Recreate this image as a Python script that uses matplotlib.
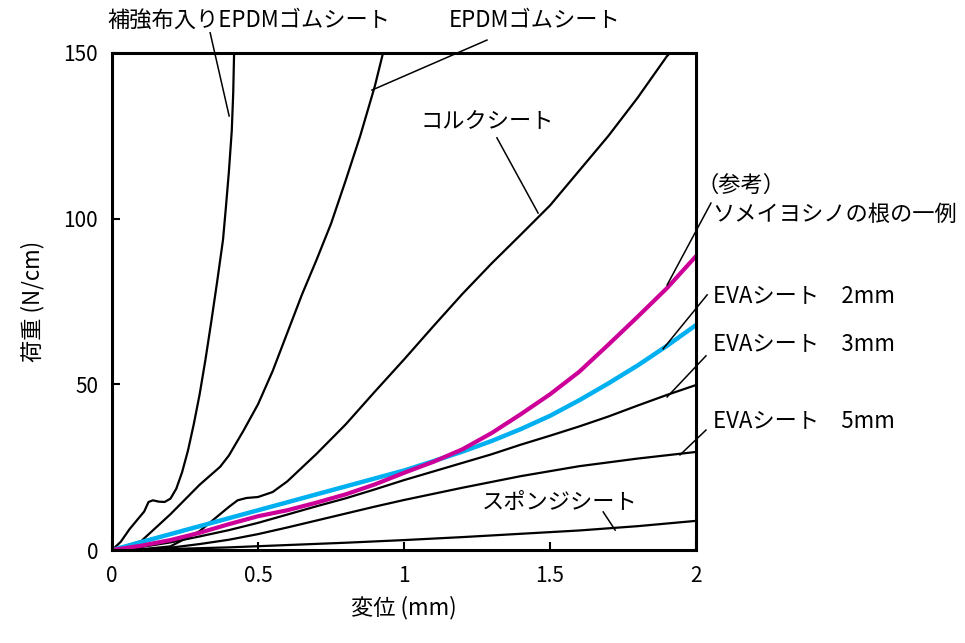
import matplotlib
matplotlib.use("Agg")
import matplotlib.pyplot as plt

plt.rcParams['font.family'] = ['Noto Sans CJK JP', 'DejaVu Sans']

# 変位 (mm) と 荷重 (N/cm) の読み取り値
epdm_cloth_x = [0, 0.03, 0.06, 0.09, 0.11, 0.125, 0.14, 0.16, 0.18, 0.2, 0.22, 0.24, 0.26, 0.28, 0.30,
                0.32, 0.34, 0.36, 0.38, 0.39, 0.40, 0.41, 0.415, 0.418]
epdm_cloth_y = [0, 2.5, 6.3, 9.5, 11.6, 14.5, 15.0, 14.6, 14.5, 15.5, 18.5, 23.5, 30.0, 38.0, 47.0,
                57.5, 69.0, 81.0, 93.6, 103.5, 114.0, 126.5, 138.0, 150]

epdm_x = [0, 0.1, 0.2, 0.3, 0.37, 0.4, 0.45, 0.5, 0.55, 0.6, 0.65, 0.7, 0.75, 0.8, 0.85, 0.9, 0.928]
epdm_y = [0, 2.7, 10.8, 19.7, 25.1, 28.5, 36.0, 44.0, 54.0, 65.5, 77.0, 87.5, 98.5, 111.5, 125.0, 140.0, 150]

cork_x = [0, 0.1, 0.2, 0.3, 0.4, 0.43, 0.46, 0.5, 0.55, 0.6, 0.7, 0.8, 0.9, 1.0, 1.1, 1.2, 1.3, 1.4,
          1.5, 1.6, 1.7, 1.8, 1.9, 1.911]
cork_y = [0, 0.2, 1.1, 5.7, 13.0, 15.0, 15.7, 16.0, 17.5, 20.7, 29.0, 37.9, 47.8, 57.5, 67.5, 77.3, 86.5, 95.2,
          104.0, 114.5, 125.0, 136.5, 149.0, 150]

root_x = [0, 0.1, 0.2, 0.3, 0.4, 0.5, 0.6, 0.7, 0.8, 0.9, 1.0, 1.1, 1.2, 1.3, 1.4, 1.5, 1.6, 1.7, 1.8, 1.9, 2.0]
root_y = [0, 1.3, 3.0, 5.2, 7.8, 10.2, 12.0, 14.3, 16.8, 19.8, 23.3, 26.6, 30.4, 35.3, 41.0, 47.0, 53.8,
          62.0, 70.4, 79.0, 88.7]

eva2_x = [0, 0.2, 0.4, 0.6, 0.8, 1.0, 1.1, 1.2, 1.3, 1.4, 1.5, 1.6, 1.7, 1.8, 1.9, 2.0]
eva2_y = [0, 4.8, 9.6, 14.4, 19.2, 24.0, 26.8, 29.7, 32.9, 36.5, 40.5, 45.2, 50.3, 55.7, 61.6, 67.9]

eva3_x = [0, 0.1, 0.2, 0.3, 0.4, 0.5, 0.6, 0.7, 0.8, 0.9, 1.0, 1.1, 1.2, 1.3, 1.4, 1.5, 1.6, 1.7, 1.8, 1.9, 2.0]
eva3_y = [0, 0.9, 2.3, 4.1, 6.0, 8.2, 10.7, 13.2, 15.6, 18.3, 21.1, 23.7, 26.3, 28.9, 31.8, 34.5, 37.3,
          40.3, 43.6, 46.8, 49.8]

eva5_x = [0, 0.1, 0.2, 0.3, 0.4, 0.5, 0.6, 0.7, 0.8, 0.9, 1.0, 1.2, 1.4, 1.6, 1.8, 2.0]
eva5_y = [0, 0.2, 0.7, 1.8, 3.1, 4.8, 6.8, 8.9, 11.0, 13.1, 15.1, 18.8, 22.3, 25.3, 27.6, 29.6]

sponge_x = [0, 0.2, 0.4, 0.6, 0.8, 1.0, 1.2, 1.4, 1.6, 1.8, 2.0]
sponge_y = [0, 0.3, 0.8, 1.5, 2.2, 3.0, 3.9, 4.9, 5.9, 7.2, 8.8]

xticks = [0, 0.5, 1, 1.5, 2]
xtick_labels = ['0', '0.5', '1', '1.5', '2']
yticks = [0, 50, 100, 150]

fig = plt.figure(figsize=(9.65, 6.43), dpi=100)
ax = fig.add_axes([0.1161, 0.1446, 0.6052, 0.773])

black = dict(color='black', lw=1.6, solid_joinstyle='round')
ax.plot(epdm_cloth_x, epdm_cloth_y, **black)
ax.plot(epdm_x, epdm_y, **black)
ax.plot(cork_x, cork_y, **black)
ax.plot(eva3_x, eva3_y, **black)
ax.plot(eva5_x, eva5_y, **black)
ax.plot(sponge_x, sponge_y, **black)
ax.plot(eva2_x, eva2_y, color='#00B0F0', lw=3.2, solid_capstyle='round', solid_joinstyle='round')
ax.plot(root_x, root_y, color='#CC0099', lw=3.0, solid_capstyle='round', solid_joinstyle='round')

ax.set_xlim(0, 2)
ax.set_ylim(0, 150)
ax.set_xticks(xticks)
ax.set_xticklabels(xtick_labels)
ax.set_yticks(yticks)
ax.tick_params(direction='in', length=6, width=1.5, labelsize=15)
ax.tick_params(axis='x', pad=11)
ax.tick_params(axis='y', pad=10)
for s in ax.spines.values():
    s.set_linewidth(2.2)

ax.set_xlabel('変位 (mm)', fontsize=16, labelpad=6)
ax.set_ylabel('荷重 (N/cm)', fontsize=16, labelpad=14)

# ラベルと引き出し線
labels = [
    ('補強布入りEPDMゴムシート', -0.017, 159.9, (0.336, 156.1), (0.401, 131.0)),
    ('EPDMゴムシート', 1.154, 159.9, (1.284, 153.9), (0.890, 138.8)),
    ('コルクシート', 1.055, 129.2, (1.318, 124.4), (1.459, 101.7)),
    ('ソメイヨシノの根の一例', 2.055, 101.4, (2.051, 104.7), (1.901, 80.0)),
    ('EVAシート　2mm', 2.058, 76.7, (2.038, 77.0), (1.887, 60.7)),
    ('EVAシート　3mm', 2.058, 62.2, (2.034, 58.6), (1.901, 46.2)),
    ('EVAシート　5mm', 2.058, 39.2, (2.034, 36.2), (1.945, 28.7)),
    ('スポンジシート', 1.267, 14.2, (1.682, 11.5), (1.723, 6.0)),
]
for text, tx, ty, p0, p1 in labels:
    ax.text(tx, ty, text, fontsize=16, ha='left', va='center', clip_on=False)
    ax.plot([p0[0], p1[0]], [p0[1], p1[1]], color='black', lw=1.1, clip_on=False)

ax.text(2.0, 109.9, '（参考）', fontsize=16, ha='left', va='center', clip_on=False)

fig.savefig('out.png', dpi=100)
